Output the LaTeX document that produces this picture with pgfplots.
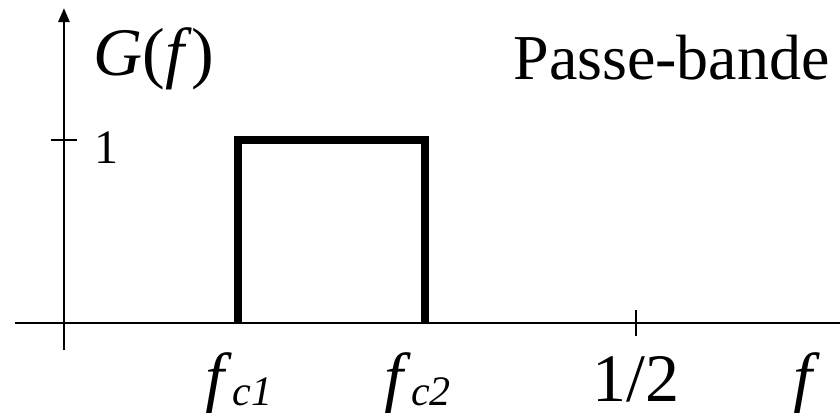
\documentclass[border=0pt]{standalone}
\usepackage{fontspec}
\setmainfont{Liberation Serif}
\usepackage{pgfplots}
\pgfplotsset{compat=1.18}
\usetikzlibrary{arrows.meta}
\newcommand{\lbl}{\fontsize{34}{40}\selectfont}
\newcommand{\fc}[1]{\textit{f}\raisebox{-2.5pt}{\fontsize{21}{24}\selectfont\itshape c#1}}
\begin{document}
\begin{tikzpicture}
\begin{axis}[
  scale only axis, width=412.5pt, height=171pt,
  xmin=-0.0428, xmax=0.6783, ymin=-0.1475, ymax=1.721,
  axis lines=middle,
  axis line style={line width=1.3pt, black},
  x axis line style={-},
  y axis line style={-{Triangle[length=7pt,width=5.5pt]}},
  xtick={0.5}, ytick={1}, xticklabels={}, yticklabels={},
  tick align=center, major tick length=13pt,
  tick style={line width=1.1pt, black},
  clip=false,
]
% band-pass gain: 1 between fc1 and fc2
\addplot[line width=4pt, black, line join=miter, line cap=butt] coordinates {
  (0.152,0) (0.152,1) (0.316,1) (0.316,0)
};
\node[anchor=base west, inner sep=0pt] at (axis cs:0.0253,1.35) {\lbl\textit{G}(\textit{f})};
\node[anchor=base west, inner sep=0pt] at (axis cs:0.3925,1.328) {\fontsize{32}{38}\selectfont Passe-bande};
\node[anchor=base west, inner sep=0pt] at (axis cs:0.026,0.874) {\fontsize{24}{28}\selectfont 1};
\node[anchor=base, inner sep=0pt] at (axis cs:0.5,-0.43) {\lbl 1/2};
\node[anchor=base, inner sep=0pt] at (axis cs:0.153,-0.425) {\lbl\fc{1}};
\node[anchor=base, inner sep=0pt] at (axis cs:0.309,-0.425) {\lbl\fc{2}};
\node[anchor=base, inner sep=0pt] at (axis cs:0.6495,-0.425) {\lbl\textit{f}};
\coordinate (bl) at (axis cs:-0.0559,-0.4863);
\coordinate (tr) at (axis cs:0.6783,1.765);
\end{axis}
\pgfresetboundingbox
\path (bl) rectangle (tr);
\end{tikzpicture}
\end{document}
